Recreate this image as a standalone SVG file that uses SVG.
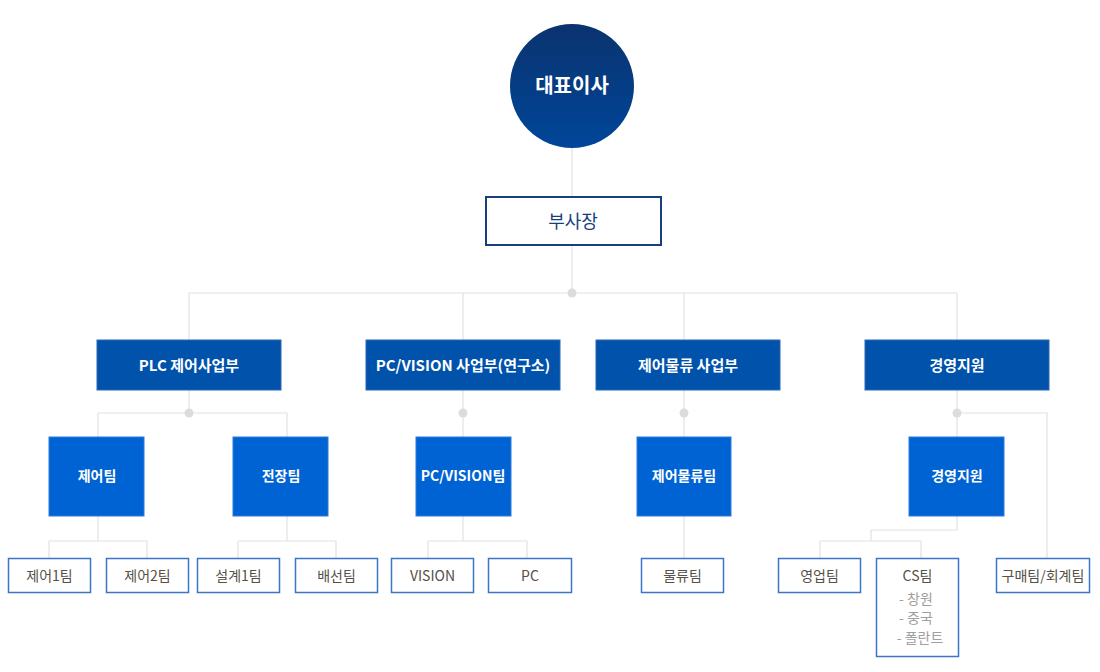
<svg xmlns="http://www.w3.org/2000/svg" width="1100" height="672" viewBox="0 0 1100 672">
<defs>
<linearGradient id="ceo" x1="0" y1="0" x2="0" y2="1">
<stop offset="0" stop-color="#0a336e"/>
<stop offset="1" stop-color="#00469a"/>
</linearGradient>
<style>
.ln{fill:none;stroke:#e2e2e2;stroke-width:1.2}
.dot{fill:#dcdcdc}
.l2{fill:#0052ab;stroke:#2a69b8;stroke-width:1}
.l3{fill:#0063d3;stroke:#2f7adb;stroke-width:1}
.l4{fill:#fff;stroke:#3a76c4;stroke-width:1.5}
text{font-family:"Noto Sans CJK KR","Noto Sans",sans-serif;text-anchor:middle}
.tw{fill:#fff;font-size:14px;font-weight:bold}
.tw2{fill:#fff;font-size:15px;font-weight:bold}
.t4{fill:#555048;font-size:14px}
.ts{fill:#a0a0a0;font-size:14px}
</style>
</defs>
<rect width="1100" height="672" fill="#fff"/>
<g id="connectors">
<path class="ln" d="M572 148V197M572 245V293M189 293H957M189 293V340M463 293V340M684 293V340M957 293V340"/>
<path class="ln" d="M189 390V413M98 413H287M98 413V437M287 413V437"/>
<path class="ln" d="M98 516V541M49 541H147M49 541V558M147 541V558"/>
<path class="ln" d="M287 516V541M238 541H336M238 541V558M336 541V558"/>
<path class="ln" d="M463 390V437M463 516V541M428 541H527M428 541V558M527 541V558"/>
<path class="ln" d="M684 390V437M684 516V558"/>
<path class="ln" d="M957 390V437M957 413H1047V558M957 516V530H871V541M820 541H921M820 541V558M921 541V558"/>
<circle class="dot" cx="572" cy="293" r="4.5"/>
<circle class="dot" cx="189" cy="413" r="4.5"/>
<circle class="dot" cx="463" cy="413" r="4.5"/>
<circle class="dot" cx="684" cy="413" r="4.5"/>
<circle class="dot" cx="957" cy="413" r="4.5"/>
</g>
<g id="ceo-node"><circle cx="572" cy="86" r="62" fill="url(#ceo)"/><text x="572" y="93" fill="#fff" font-size="20" font-weight="bold">대표이사</text></g>
<g id="vp-node"><rect x="486" y="197" width="175" height="48" fill="#fff" stroke="#173f7c" stroke-width="2"/><text x="573" y="228" fill="#173f7c" font-size="18">부사장</text></g>
<g id="plc"><rect class="l2" x="97" y="340" width="184" height="50"/><text class="tw2" x="189" y="371">PLC 제어사업부</text></g>
<g id="pcv"><rect class="l2" x="366" y="340" width="194" height="50"/><text class="tw2" x="463" y="371">PC/VISION 사업부(연구소)</text></g>
<g id="logi"><rect class="l2" x="596" y="340" width="184" height="50"/><text class="tw2" x="688" y="371">제어물류 사업부</text></g>
<g id="mgmt"><rect class="l2" x="865" y="340" width="184" height="50"/><text class="tw2" x="957" y="371">경영지원</text></g>
<g id="ctrl-team"><rect class="l3" x="49" y="437" width="95" height="79"/><text class="tw" x="97" y="481">제어팀</text></g>
<g id="elec-team"><rect class="l3" x="233" y="437" width="95" height="79"/><text class="tw" x="281" y="481">전장팀</text></g>
<g id="pcv-team"><rect class="l3" x="416" y="437" width="95" height="79"/><text class="tw" x="463" y="481">PC/VISION팀</text></g>
<g id="logi-team"><rect class="l3" x="637" y="437" width="94" height="79"/><text class="tw" x="684" y="481">제어물류팀</text></g>
<g id="mgmt-team"><rect class="l3" x="909" y="437" width="95" height="79"/><text class="tw" x="957" y="481">경영지원</text></g>
<g id="ctrl1"><rect class="l4" x="8.5" y="558.5" width="82" height="34"/><text class="t4" x="49.5" y="581">제어1팀</text></g>
<g id="ctrl2"><rect class="l4" x="106.5" y="558.5" width="82" height="34"/><text class="t4" x="147.5" y="581">제어2팀</text></g>
<g id="design1"><rect class="l4" x="197.5" y="558.5" width="82" height="34"/><text class="t4" x="238.5" y="581">설계1팀</text></g>
<g id="wiring"><rect class="l4" x="295.5" y="558.5" width="82" height="34"/><text class="t4" x="336.5" y="581">배선팀</text></g>
<g id="vision"><rect class="l4" x="391.5" y="558.5" width="82" height="34"/><text class="t4" x="432.5" y="581">VISION</text></g>
<g id="pc"><rect class="l4" x="488.5" y="558.5" width="83" height="34"/><text class="t4" x="530" y="581">PC</text></g>
<g id="logistics"><rect class="l4" x="641.5" y="558.5" width="82" height="34"/><text class="t4" x="682.5" y="581">물류팀</text></g>
<g id="sales"><rect class="l4" x="778.5" y="558.5" width="82" height="34"/><text class="t4" x="819.5" y="581">영업팀</text></g>
<g id="cs"><rect class="l4" x="876.5" y="558.5" width="82" height="98"/><text class="t4" x="917.5" y="581">CS팀</text><text class="ts" x="916" y="604">- 창원</text><text class="ts" x="916" y="623">- 중국</text><text class="ts" x="920" y="643">- 폴란트</text></g>
<g id="purchase"><rect class="l4" x="996.5" y="558.5" width="93" height="34"/><text class="t4" x="1043" y="581">구매팀/회계팀</text></g>
</svg>
